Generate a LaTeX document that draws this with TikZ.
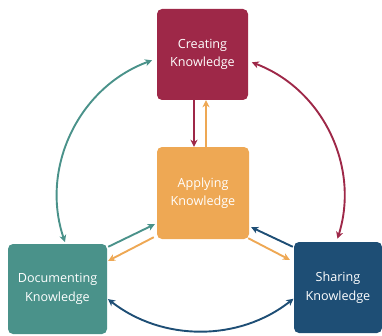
\documentclass[tikz,border=0pt]{standalone}
\usepackage{fontspec}
\setmainfont{Open Sans}
\usetikzlibrary{arrows.meta}
\definecolor{createred}{HTML}{9E2848}
\definecolor{applyorange}{HTML}{EEA854}
\definecolor{docteal}{HTML}{4A928A}
\definecolor{shareblue}{HTML}{1E4E75}
\begin{document}
\begin{tikzpicture}[x=1pt,y=1pt,
        box/.style={rounded corners=5pt, text=white, align=center, inner sep=0pt,
            font=\fontsize{12.6}{18.5}\selectfont},
        link/.style={line width=1.9pt, -{Stealth[length=7pt,width=7pt,inset=2pt]}},
        both/.style={line width=1.9pt, {Stealth[length=7pt,width=7pt,inset=2pt]}-{Stealth[length=7pt,width=7pt,inset=2pt]}}]
            \useasboundingbox (0,0) rectangle (382,335);
            \node[box, fill=createred, minimum width=91pt, minimum height=91pt] (creating) at (202.5,280.5) {Creating\\Knowledge};
            \node[box, fill=applyorange, minimum width=92pt, minimum height=92pt] (applying) at (203,142) {Applying\\Knowledge};
            \node[box, fill=docteal, minimum width=99pt, minimum height=90pt] (documenting) at (57.5,46) {Documenting\\Knowledge};
            \node[box, fill=shareblue, minimum width=88pt, minimum height=91pt] (sharing) at (338,47.5) {Sharing\\Knowledge};
            % centres of the outer arcs
            \coordinate (hubl) at (202,139);
            \coordinate (hubr) at (201,139);
            \coordinate (hubb) at (200.5,154);
            \coordinate (tealtop) at ([shift={(110.2:144.6)}]hubl);
            \coordinate (redtop) at ([shift={(69.2:143)}]hubr);
            \coordinate (blueleft) at ([shift={(231.9:150)}]hubb);
            \draw[both, docteal] (tealtop) arc[start angle=110.2, end angle=198.6, radius=144.6];
            \draw[both, createred] (redtop) arc[start angle=69.2, end angle=-17.4, radius=143];
            \draw[both, shareblue] (blueleft) arc[start angle=231.9, end angle=308.3, radius=150];
            \draw[link, createred] ([xshift=-8.5pt]creating.south) -- ([xshift=-9pt]applying.north);
            \draw[link, applyorange] ([xshift=3pt]applying.north) -- ([xshift=3.5pt]creating.south);
            \draw[link, docteal] ([shift={(1,-3)}]documenting.north east) -- ([shift={(-2,15)}]applying.south west);
            \draw[link, applyorange] ([shift={(-3,2)}]applying.south west) -- ([shift={(1,-17)}]documenting.north east);
            \draw[link, applyorange] ([shift={(-1,1)}]applying.south east) -- ([shift={(-4,-18)}]sharing.north west);
            \draw[link, shareblue] ([shift={(-1,-5)}]sharing.north west) -- ([shift={(2,12)}]applying.south east);
        \end{tikzpicture}
\end{document}
